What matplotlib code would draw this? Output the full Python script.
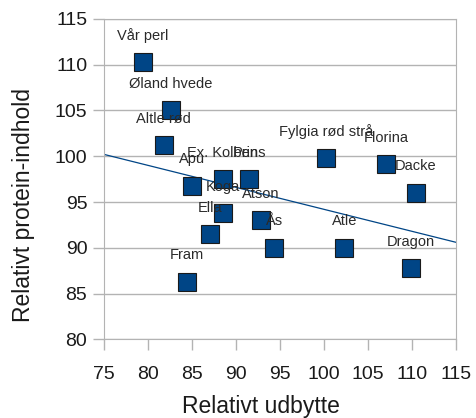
import numpy as np
import matplotlib
matplotlib.use("Agg")
import matplotlib.pyplot as plt

plt.rcParams['font.family'] = ['Liberation Sans', 'DejaVu Sans']

# sorter -------------------------------------------------------
names = ["Vår perl", "Øland hvede", "Altle rød", "Apu", "Ex. Kolben", "Prins",
         "Koga", "Ella", "Atson", "Ås", "Atle", "Fram",
         "Fylgia rød strå", "Florina", "Dacke", "Dragon"]
udbytte = [79.4, 82.6, 81.8, 85.0, 88.5, 91.5,
           88.5, 87.1, 92.8, 94.3, 102.3, 84.4,
           100.2, 107.1, 110.4, 109.9]
protein = [110.3, 105.0, 101.2, 96.8, 97.5, 97.5,
           93.8, 91.5, 93.0, 90.0, 90.0, 86.3,
           99.8, 99.1, 96.0, 87.8]

# trendlinje (aflæst ved 75 og 115)
trend_x = [75, 115]
trend_y = [100.2, 90.6]

xticks = list(range(75, 116, 5))
yticks = list(range(80, 116, 5))

fig = plt.figure(figsize=(4.77, 4.18), dpi=100)
ax = fig.add_axes([0.218, 0.188, 0.738, 0.767])

ax.plot(trend_x, trend_y, color="#004586", lw=0.9, zorder=2)
ax.plot(udbytte, protein, 's', color="#004586", markersize=13.5,
        markeredgecolor="#1a1a1a", markeredgewidth=0.8, zorder=3)

for n, x, y in zip(names, udbytte, protein):
    ax.annotate(n, (x, y), xytext=(0, 19), textcoords="offset points",
                ha="center", va="center", fontsize=10.5, color="#2a2a2a", zorder=4)

ax.set_xlim(75, 115)
ax.set_ylim(80, 115)
ax.set_xticks(xticks)
ax.set_yticks(yticks)
ax.yaxis.grid(True, color="#b3b3b3", lw=1)
ax.set_axisbelow(True)
for s in ax.spines.values():
    s.set_color("#b3b3b3")
ax.tick_params(axis="both", colors="#b3b3b3", labelcolor="#1a1a1a",
               labelsize=14, length=8, width=1)
ax.tick_params(axis="x", pad=11)
ax.tick_params(axis="y", pad=4)
ax.set_xlabel("Relativt udbytte", fontsize=16.5, color="#1a1a1a")
ax.set_ylabel("Relativt protein-indhold", fontsize=16.5, color="#1a1a1a")
ax.xaxis.set_label_coords(0.446, -0.172)
ax.yaxis.set_label_coords(-0.197, 0.42)

fig.savefig("out.png", dpi=100)
